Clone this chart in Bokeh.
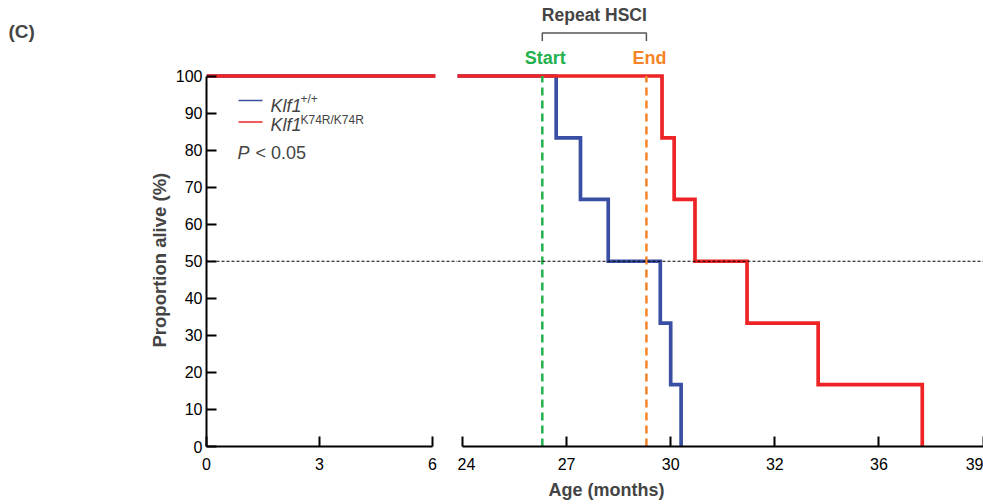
import math
from bokeh.plotting import figure
from bokeh.models import Range1d, FixedTicker, Label, Span, BoxAnnotation, Title
from bokeh.layouts import row
from bokeh.embed import file_html
from bokeh.resources import INLINE

# ---------------- data ----------------
months_wt = [0, 26.7, 27.4, 28.2, 29.7, 30.0, 30.3]          # Klf1 +/+
alive_wt = [100, 83.3, 66.7, 50.0, 33.3, 16.7, 0]
months_ki = [0, 29.75, 30.1, 30.7, 32.2, 34.25, 37.25]       # Klf1 K74R/K74R
alive_ki = [100, 83.3, 66.7, 50.0, 33.3, 16.7, 0]
hsci_start = 26.3
hsci_end = 29.3
median_level = 50
y_ticks = [0, 10, 20, 30, 40, 50, 60, 70, 80, 90, 100]
x_ticks_left = [0, 3, 6]
x_ticks_right = [24, 27, 30, 33, 36, 39]
x_tick_labels_right = ["24", "27", "30", "32", "36", "39"]
series_names = ["Klf1", "Klf1"]
series_sups = ["+/+", "K74R/K74R"]

# ---------------- style / layout ----------------
FONT = "Liberation Sans"
BLUE = "#3a4fa3"
RED = "#ee2326"
GREEN = "#22b14c"
ORANGE = "#f58426"
H = 504
Y0_PX = 446                            # screen y of 0 %
BORDER_BOTTOM = H - Y0_PX
PX_PER_UNIT_Y = 3.705
PX_L = 37.67                           # px per month, left segment
PX_R = 34.7                            # px per month, right segment
C_W = 60                               # panel-letter strip
L_BORDER = 206 - C_W
L_FRAME = 251                          # 206 .. 457
R_FRAME = 983 - 457
R_START = 24 - 5 / PX_R
TXT_SHIFT = 5                          # baseline correction for labels


def yd(py):
    return (Y0_PX - py) / PX_PER_UNIT_Y


def yt(py):
    return yd(py - TXT_SHIFT)


def xl(px):
    return (px - 206) / PX_L


def xr(px):
    return 24 + (px - 462) / PX_R


def style_axis(ax):
    ax.axis_line_width = 2
    ax.axis_line_color = "black"
    ax.major_tick_line_width = 2
    ax.major_tick_line_color = "black"
    ax.major_tick_in = 10
    ax.major_tick_out = 0
    ax.minor_tick_line_color = None
    ax.major_label_text_font = FONT
    ax.major_label_text_font_size = "16px"
    ax.major_label_text_color = "black"


def base_fig(width, x_rng, y_rng, border_left, border_right, xloc, yloc):
    p = figure(width=width, height=H, x_range=x_rng, y_range=y_rng,
               output_backend="svg", toolbar_location=None,
               min_border_left=border_left, min_border_right=border_right,
               min_border_top=0, min_border_bottom=BORDER_BOTTOM,
               x_axis_location=xloc, y_axis_location=yloc)
    p.outline_line_color = None
    p.xgrid.grid_line_color = None
    p.ygrid.grid_line_color = None
    p.background_fill_color = "white"
    p.border_fill_color = "white"
    return p


def draw_curves(p):
    p.step(months_wt, alive_wt, mode="after", line_color=BLUE, line_width=3.7,
           line_join="miter")
    p.step(months_ki, alive_ki, mode="after", line_color=RED, line_width=3.7,
           line_join="miter")


Y_RANGE_END = Y0_PX / PX_PER_UNIT_Y

# ---------------- panel letter strip ----------------
pc = base_fig(C_W, Range1d(0, C_W), Range1d(0, Y0_PX), 0, 0, None, None)
pc.add_layout(Label(x=8, y=Y0_PX - (36 - TXT_SHIFT), text="(C)", text_font=FONT,
                    text_font_size="19px", text_font_style="bold",
                    text_baseline="alphabetic"))

# ---------------- left segment ----------------
pl = base_fig(L_BORDER + L_FRAME, Range1d(0, L_FRAME / PX_L),
              Range1d(0, Y_RANGE_END), L_BORDER, 0, "below", "left")
draw_curves(pl)
pl.add_layout(BoxAnnotation(left=xl(435), fill_color="white", fill_alpha=1.0,
                            line_color=None))
pl.add_layout(Span(location=median_level, dimension="width", line_color="black",
                   line_width=1, line_dash="3 2"))
style_axis(pl.xaxis[0])
style_axis(pl.yaxis[0])
pl.xaxis[0].ticker = FixedTicker(ticks=x_ticks_left)
pl.xaxis[0].bounds = (0, 6)
pl.xaxis[0].major_label_standoff = 11
pl.yaxis[0].ticker = FixedTicker(ticks=y_ticks)
pl.yaxis[0].bounds = (0, 100)
pl.yaxis[0].major_label_standoff = 4
pl.add_layout(Title(text="Proportion alive (%)", align="left",
                    offset=Y0_PX - 347, text_font=FONT, text_font_size="18.5px",
                    text_font_style="bold", standoff=6), "left")

# legend
leg_rows_px = [100, 121.5]
leg_base_px = [110, 129.5]
leg_sup_px = [103.5, 124.5]
for i, c in enumerate([BLUE, RED]):
    pl.segment(x0=[xl(238)], y0=[yd(leg_rows_px[i])], x1=[xl(262)],
               y1=[yd(leg_rows_px[i])], line_color=c, line_width=1.6)
    pl.add_layout(Label(x=xl(270), y=yt(leg_base_px[i]), text=series_names[i],
                        text_font=FONT, text_font_size="18px",
                        text_font_style="italic", text_baseline="alphabetic"))
    pl.add_layout(Label(x=xl(300), y=yt(leg_sup_px[i]), text=series_sups[i],
                        text_font=FONT, text_font_size="12px",
                        text_baseline="alphabetic"))
pl.add_layout(Label(x=xl(237), y=yt(157), text="P", text_font=FONT,
                    text_font_size="18px", text_font_style="italic",
                    text_baseline="alphabetic"))
pl.add_layout(Label(x=xl(255), y=yt(157), text="< 0.05", text_font=FONT,
                    text_font_size="18px", text_baseline="alphabetic"))

# ---------------- right segment ----------------
pr = base_fig(R_FRAME, Range1d(R_START, R_START + R_FRAME / PX_R),
              Range1d(0, Y_RANGE_END), 0, 0, "below", None)
draw_curves(pr)
pr.add_layout(Span(location=median_level, dimension="width", line_color="black",
                   line_width=1, line_dash="3 2"))
pr.segment(x0=[hsci_start], y0=[0], x1=[hsci_start], y1=[100],
           line_color=GREEN, line_width=2.5, line_dash="8 5")
pr.segment(x0=[hsci_end], y0=[0], x1=[hsci_end], y1=[100],
           line_color=ORANGE, line_width=2.5, line_dash="8 5")
style_axis(pr.xaxis[0])
pr.xaxis[0].ticker = FixedTicker(ticks=x_ticks_right)
pr.xaxis[0].major_label_overrides = dict(zip(x_ticks_right, x_tick_labels_right))
pr.xaxis[0].bounds = (24, 39)
pr.xaxis[0].major_label_standoff = 11

# bracket + labels
y_top, y_bot = yd(32.5), yd(40.5)
pr.multi_line(xs=[[hsci_start, hsci_start, hsci_end, hsci_end]],
              ys=[[y_bot, y_top, y_top, y_bot]], line_color="#555555",
              line_width=1.5)
pr.add_layout(Label(x=(hsci_start + hsci_end) / 2, y=yt(19), text="Repeat HSCI",
                    text_font=FONT, text_font_size="17.5px", text_font_style="bold",
                    text_align="center", text_baseline="alphabetic"))
pr.add_layout(Label(x=hsci_start, x_offset=3, y=yt(62), text="Start",
                    text_font=FONT, text_font_size="18px", text_font_style="bold",
                    text_color=GREEN, text_align="center",
                    text_baseline="alphabetic"))
pr.add_layout(Label(x=hsci_end, x_offset=3, y=yt(62), text="End",
                    text_font=FONT, text_font_size="18px", text_font_style="bold",
                    text_color=ORANGE, text_align="center",
                    text_baseline="alphabetic"))
pr.add_layout(Title(text="Age (months)", align="left", offset=548 - 457,
                    text_font=FONT, text_font_size="18px",
                    text_font_style="bold", standoff=10), "below")

layout = row(pc, pl, pr)
open("out.html", "w").write(file_html(layout, INLINE))
